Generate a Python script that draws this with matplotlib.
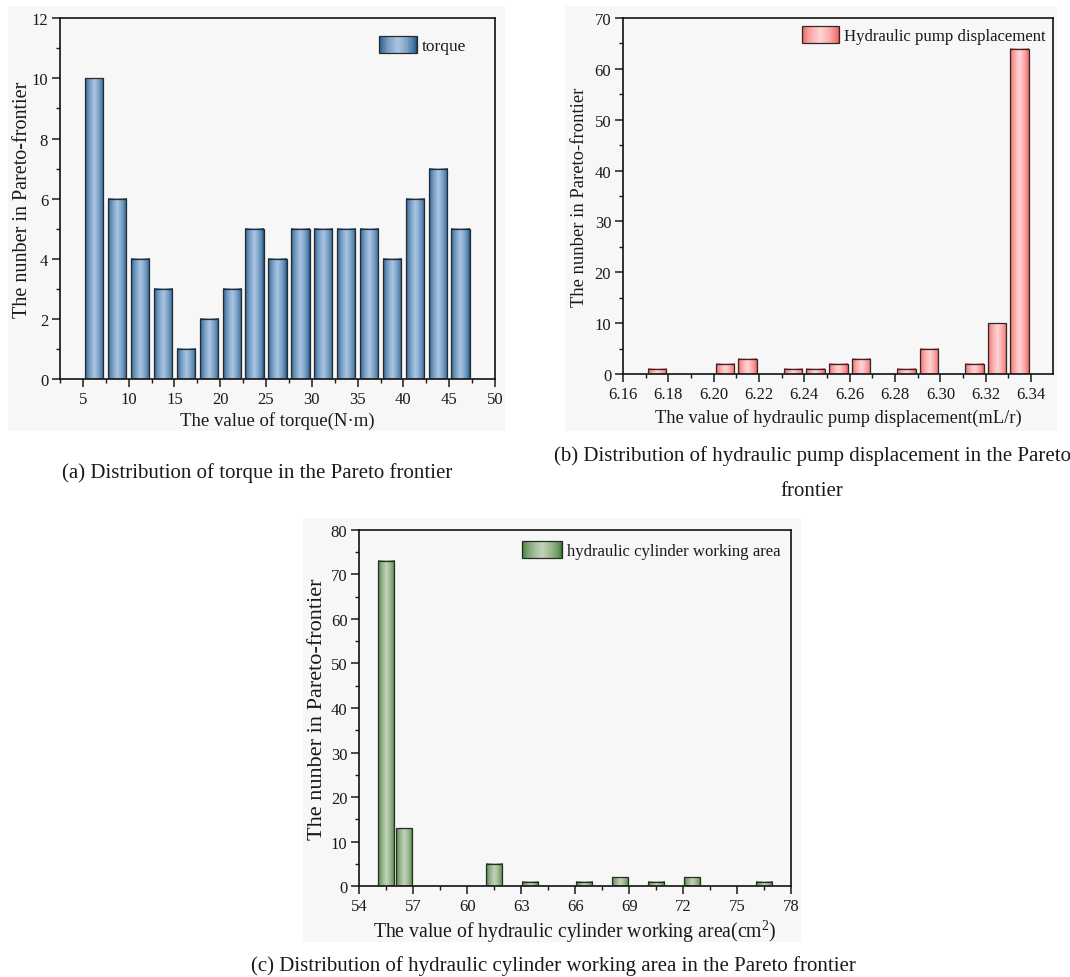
import matplotlib
matplotlib.use('Agg')
import matplotlib.pyplot as plt
import numpy as np
from matplotlib.patches import Rectangle
from matplotlib.legend_handler import HandlerBase
from matplotlib.colors import to_rgb
from matplotlib.ticker import MultipleLocator, FormatStrFormatter

W, H = 1070, 978

plt.rcParams.update({
    'font.family': ['Liberation Serif', 'DejaVu Serif'],
    'mathtext.fontset': 'custom',
    'mathtext.rm': 'Liberation Serif',
    'text.color': '#1a1a1a',
    'axes.labelcolor': '#1a1a1a',
    'xtick.color': '#1a1a1a',
    'ytick.color': '#1a1a1a',
})

# ---- data ----
torque_bins = [6.25, 8.75, 11.25, 13.75, 16.25, 18.75, 21.25, 23.75, 26.25,
               28.75, 31.25, 33.75, 36.25, 38.75, 41.25, 43.75, 46.25]
torque_counts = [10, 6, 4, 3, 1, 2, 3, 5, 4, 5, 5, 5, 5, 4, 6, 7, 5]

pump_bins = [6.175, 6.185, 6.195, 6.205, 6.215, 6.225, 6.235, 6.245, 6.255,
             6.265, 6.275, 6.285, 6.295, 6.305, 6.315, 6.325, 6.335]
pump_counts = [1, 0, 0, 2, 3, 0, 1, 1, 2, 3, 0, 1, 5, 0, 2, 10, 64]

area_bins = [55.5, 56.5, 57.5, 58.5, 59.5, 60.5, 61.5, 62.5, 63.5, 64.5, 65.5,
             66.5, 67.5, 68.5, 69.5, 70.5, 71.5, 72.5, 73.5, 74.5, 75.5, 76.5]
area_counts = [73, 13, 0, 0, 0, 0, 5, 0, 1, 0, 0, 1, 0, 2, 0, 1, 0, 2, 0, 0, 0, 1]

EDGE = '#2a2a2a'
BG = '#f7f7f7'
BLUE = ('#0f4c82', '#a9c5e2')
RED = ('#f05252', '#ffd4d4')
GREEN = ('#2f7526', '#c4d2ba')


def gradient_colors(dark, light, n=40):
    d, l = np.array(to_rgb(dark)), np.array(to_rgb(light))
    t = np.linspace(-1, 1, n)
    f = (1 - np.abs(t)) ** 0.55
    return [tuple(d + (l - d) * v) for v in f]


def gradient_bars(ax, x, h, width, colors):
    bars = ax.bar(x, h, width, facecolor='none', edgecolor=EDGE, linewidth=0.9, zorder=3)
    grad = np.array([gradient_colors(*colors)])
    for b in bars:
        if b.get_height() <= 0:
            continue
        x0, y0 = b.get_x(), b.get_y()
        ax.imshow(grad, extent=[x0, x0 + b.get_width(), y0, y0 + b.get_height()],
                  aspect='auto', interpolation='bilinear', zorder=2)
    return bars


class GradHandler(HandlerBase):
    def __init__(self, colors):
        super().__init__()
        self.colors = colors

    def create_artists(self, legend, orig_handle, xdescent, ydescent, width, height, fontsize, trans):
        cols = gradient_colors(*self.colors)
        n = len(cols)
        arts = []
        for i, c in enumerate(cols):
            arts.append(Rectangle((-xdescent + i * width / n, -ydescent), width / n * 1.1, height,
                                  facecolor=c, edgecolor='none', transform=trans))
        arts.append(Rectangle((-xdescent, -ydescent), width, height, fill=False,
                              edgecolor=EDGE, linewidth=0.9, transform=trans))
        return arts


def px_axes(fig, x0, x1, y0, y1):
    return fig.add_axes([x0 / W, 1 - y1 / H, (x1 - x0) / W, (y1 - y0) / H])


def gray_box(fig, x0, x1, y0, y1):
    fig.add_artist(Rectangle((x0 / W, 1 - y1 / H), (x1 - x0) / W, (y1 - y0) / H,
                             transform=fig.transFigure, facecolor=BG, edgecolor='none', zorder=-5))


def style_axes(ax, tick_size):
    ax.set_facecolor(BG)
    for s in ax.spines.values():
        s.set_linewidth(1.2)
        s.set_color('#111111')
    ax.tick_params(which='major', direction='out', length=5.5, width=1.1, labelsize=tick_size,
                   top=False, right=False, pad=3)
    ax.tick_params(which='minor', direction='out', length=3, width=1.0, top=False, right=False)


def add_legend(ax, label, colors, x, y, fs, hl, hh):
    proxy = Rectangle((0, 0), 1, 1)
    ax.legend([proxy], [label], handler_map={proxy: GradHandler(colors)}, loc='upper left',
              bbox_to_anchor=(x, y), frameon=False, borderpad=0, borderaxespad=0,
              handlelength=hl, handleheight=hh, handletextpad=0.3, fontsize=fs)


fig = plt.figure(figsize=(W / 100, H / 100), dpi=100)

gray_box(fig, 8, 505, 7, 432)
gray_box(fig, 565, 1057, 7, 432)
gray_box(fig, 303, 801, 519, 943)

# (a) torque
ax1 = px_axes(fig, 60, 495, 19.3, 380)
style_axes(ax1, 12)
gradient_bars(ax1, torque_bins, torque_counts, 2.0, BLUE)
ax1.set_xlim(2.5, 50)
ax1.set_ylim(0, 12)
ax1.xaxis.set_major_locator(MultipleLocator(5))
ax1.xaxis.set_minor_locator(MultipleLocator(2.5))
ax1.yaxis.set_major_locator(MultipleLocator(2))
ax1.yaxis.set_minor_locator(MultipleLocator(1))
ax1.set_xlabel('The value of torque(N\u00b7m)', fontsize=13.5, va='center')
ax1.set_ylabel('The nunber in Pareto-frontier', fontsize=14.5, va='center')
ax1.xaxis.set_label_coords(0.5, -0.114)
ax1.yaxis.set_label_coords(-0.087, 0.5)
add_legend(ax1, 'torque', BLUE, 0.733, 0.951, 12.5, 2.2, 1.1)

# (b) hydraulic pump displacement
ax2 = px_axes(fig, 623, 1053, 19, 375)
style_axes(ax2, 12)
gradient_bars(ax2, pump_bins, pump_counts, 0.0082, RED)
ax2.set_xlim(6.16, 6.3497)
ax2.set_ylim(0, 70)
ax2.xaxis.set_major_locator(MultipleLocator(0.02))
ax2.xaxis.set_minor_locator(MultipleLocator(0.01))
ax2.xaxis.set_major_formatter(FormatStrFormatter('%.2f'))
ax2.yaxis.set_major_locator(MultipleLocator(10))
ax2.yaxis.set_minor_locator(MultipleLocator(5))
ax2.set_xlabel('The value of hydraulic pump displacement(mL/r)', fontsize=13.3, va='center')
ax2.set_ylabel('The nunber in Pareto-frontier', fontsize=13.4, va='center')
ax2.xaxis.set_label_coords(0.5, -0.121)
ax2.yaxis.set_label_coords(-0.1, 0.5)
add_legend(ax2, 'Hydraulic pump displacement', RED, 0.416, 0.978, 12.1, 2.2, 1.15)

# (c) hydraulic cylinder working area
ax3 = px_axes(fig, 359.3, 791, 530.7, 887.3)
style_axes(ax3, 12)
gradient_bars(ax3, area_bins, area_counts, 0.9, GREEN)
ax3.set_xlim(54, 78)
ax3.set_ylim(0, 80)
ax3.xaxis.set_major_locator(MultipleLocator(3))
ax3.xaxis.set_minor_locator(MultipleLocator(1.5))
ax3.yaxis.set_major_locator(MultipleLocator(10))
ax3.yaxis.set_minor_locator(MultipleLocator(5))
ax3.set_xlabel('The value of hydraulic cylinder working area(cm$^{2}$)', fontsize=14.2, va='center')
ax3.set_ylabel('The nunber in Pareto-frontier', fontsize=16, va='center')
ax3.xaxis.set_label_coords(0.5, -0.125)
ax3.yaxis.set_label_coords(-0.0957, 0.5)
add_legend(ax3, 'hydraulic cylinder working area', GREEN, 0.377, 0.968, 12.1, 2.4, 1.2)

# captions
fig.text(257 / W, 1 - 473 / H, '(a) Distribution of torque in the Pareto frontier',
         ha='center', va='center', fontsize=15)
fig.text(812 / W, 1 - 456 / H, '(b) Distribution of hydraulic pump displacement in the Pareto',
         ha='center', va='center', fontsize=15)
fig.text(812 / W, 1 - 492 / H, 'frontier', ha='center', va='center', fontsize=15)
fig.text(553 / W, 1 - 966 / H, '(c) Distribution of hydraulic cylinder working area in the Pareto frontier',
         ha='center', va='center', fontsize=15)

fig.savefig('out.png', dpi=100, facecolor='white')
